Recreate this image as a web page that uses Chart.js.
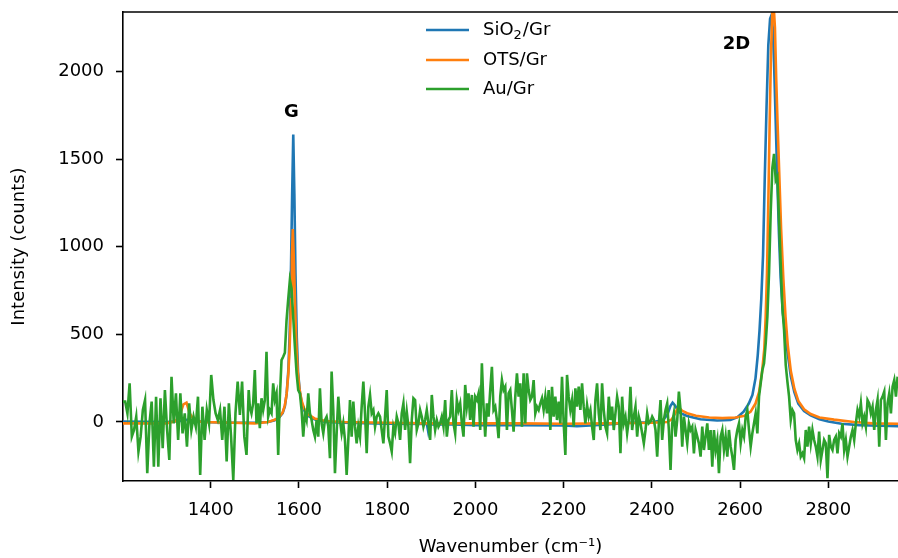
<!DOCTYPE html>
<html>
<head>
<meta charset="utf-8">
<script src="https://cdn.jsdelivr.net/npm/chart.js@4"></script>
<style>
  html, body { margin: 0; padding: 0; background: #fff; }
  canvas { display: block; }
</style>
</head>
<body>
<canvas id="ramanChart" width="898" height="558"></canvas>
<script>
// --- data ---
const xTickValues = [1400, 1600, 1800, 2000, 2200, 2400, 2600, 2800];
const yTickValues = [0, 500, 1000, 1500, 2000];

// SiO2/Gr (smooth, sampled where the shape changes)
const sio2Wn = [1200, 1300, 1330, 1345, 1360, 1400, 1450, 1500, 1530, 1545, 1555, 1563, 1568, 1572, 1576, 1579, 1582, 1584.5, 1587, 1589.5, 1592, 1595, 1598, 1602, 1607, 1613, 1620, 1635, 1660, 1700, 1800, 1890, 1893, 1896, 1950, 2000, 2100, 2200, 2230, 2250, 2300, 2350, 2400, 2425, 2435, 2442, 2447, 2452, 2458, 2465, 2480, 2510, 2548, 2578, 2594, 2608, 2620, 2628, 2635, 2640, 2644, 2648, 2652, 2656, 2660, 2664, 2668, 2671, 2674, 2677, 2680, 2684, 2688, 2692, 2697, 2702, 2708, 2715, 2723, 2732, 2745, 2760, 2780, 2800, 2830, 2870, 2920, 2960];
const sio2Counts = [2, 0, 5, 12, 5, -2, -5, -5, 0, 10, 25, 50, 90, 160, 300, 520, 900, 1300, 1640, 1300, 850, 480, 280, 170, 100, 60, 35, 15, 0, -5, -10, -12, -55, -15, -15, -18, -18, -20, -25, -22, -15, -5, -2, 10, 40, 90, 110, 95, 70, 50, 34, 15, 8, 11, 27, 59, 106, 154, 250, 380, 520, 700, 950, 1400, 1800, 2150, 2300, 2320, 2250, 2050, 1780, 1420, 1080, 820, 620, 520, 390, 260, 170, 105, 62, 38, 15, 2, -10, -18, -22, -24];

// OTS/Gr
const otsWn = [1200, 1300, 1320, 1330, 1338, 1345, 1352, 1362, 1380, 1450, 1500, 1530, 1545, 1555, 1563, 1568, 1572, 1576, 1579, 1582, 1584, 1586, 1588, 1591, 1594, 1597, 1601, 1606, 1612, 1620, 1635, 1660, 1700, 1800, 1900, 2000, 2100, 2200, 2300, 2400, 2435, 2445, 2452, 2458, 2462, 2468, 2480, 2500, 2530, 2560, 2590, 2610, 2624, 2635, 2643, 2650, 2655, 2658, 2661, 2664, 2667, 2670, 2673, 2676, 2679, 2682, 2685, 2689, 2693, 2698, 2703, 2708, 2715, 2723, 2732, 2745, 2760, 2780, 2813, 2858, 2900, 2960];
const otsCounts = [-8, -8, 5, 40, 100, 110, 50, 10, 0, -5, -8, 0, 12, 28, 55, 95, 160, 280, 440, 700, 950, 1100, 950, 680, 440, 290, 190, 120, 75, 45, 20, 5, 0, -5, -8, -8, -8, -10, -8, -5, 0, 15, 45, 75, 80, 65, 50, 35, 25, 22, 25, 35, 59, 106, 170, 290, 420, 600, 850, 1250, 1700, 2100, 2330, 2380, 2250, 1950, 1700, 1400, 1100, 820, 600, 440, 290, 190, 120, 72, 45, 25, 13, 0, -8, -10];

// Au/Gr (noisy): first part every 5 cm-1 from 1201, rest every 3.785 cm-1 from 1488.5
const auLowStart = 1201;
const auLowStep = 5;
const auLowCounts = [116, 116, 49, 220, -84, -46, 30, -169, -84, 68, 125, -293, -8, 116, -255, 144, -255, 135, -150, 182, -46, -217, 258, -8, 163, -103, 163, -65, 49, -141, 106, -46, 30, -27, 144, -302, 87, -103, 68, -8, 268, 125, 49, 11, 68, -103, 87, -226, 106, -84, -331, 49, 230, 40, 230, -84, -188, 182];
const auStart = 1488.5;
const auStep = 3.785;
const auCounts = [
  87, 49, 106, 296, -8, 106, -36, 135, 68, 125,
  400, 30, 68, 49, 220, 125, 163, -188, 144, 353,
  372, 395, 580, 700, 810, 760, 600, 430, 280, 182,
  163, 68, -84, 49, 11, 163, 49, 11, -46, -84,
  11, -84, 192, -8, -65, 11, 30, -27, -207, 287,
  68, -293, -65, 144, 11, -65, -8, -103, -302, -103,
  125, -84, 116, -27, -122, -27, -84, 87, 230, 49,
  -179, 87, 154, 49, 68, -27, 30, 49,
  30, -46, -122, 30, 182, -84, -122, -169, -27, -65,
  30, -8, -103, 49, 106, -46, 59, -27, -236, 11,
  135, 125, -46, -8, 68, 30, -27, 11, 68, -8,
  -103, 154, 30, -46, 11, -27, -8, 30, -27, 125,
  -84, 11, 30, 182, -8, -65, 125, 68, 106, -8,
  -84, 211, 87, 163, 11, 154, -27, 144, 125, 163,
  -46, 334, 87, -84, 106, 30, 182, 315, 68, 87,
  11, -93, 144, 239, 182, 201, -46, 163,
  182, 68, -55, 144, 277, 144, 220, -27, 277, -8,
  277, 182, 125, 144, 239, 49, 87, 68, 106, 135,
  68, 144, 49, 182, -46, 201, 30, 144, 11, 116,
  -8, 258, -8, -188, 268, 144, 68, 125, -27, 192,
  87, 201, 68, 220, 87, -8, 97, 30, 68, -27,
  -103, 125, 220, 49, -46, 220, 68, -27, -65, 144,
  11, 87, -46, 49, 144, 87, -179, 144, -8, 30,
  -65, 11, 201, -46, 30, 87, -84, 30,
  -8, -65, -122, -46, 49, -8, 2, 30, 11, -46,
  -198, -8, 125, -103, 11, 68, 106, -46, -274, -8,
  49, -84, 11, 173, 68, -141, 30, -46, -122, -8,
  -46, -27, -179, -46, -84, -122, -198, -27, -160, -84,
  -8, -160, -46, -255, -46, -160, -103, -293, -84, -46,
  -160, -84, -198, -46, -141, -198, -274, -103, -46, -8,
  -122, -46, -84, 30, 68, -46, -141, -65, -8, 49,
  -65, 144, 220, 296, 334, 448, 600, 850,
  1200, 1450, 1530, 1380, 1400, 1150, 900, 650, 525, 325,
  230, 144, 11, 68, 49, -103, -160, -122, -198, -179,
  -207, -46, -141, -27, -122, -46, -103, -141, -198, -55,
  -217, -160, -103, -122, -321, -74, -141, -160, -103, -84,
  -179, -65, -84, -8, -160, -103, -198, -141, -84, -46,
  -103, -8, 68, 30, 106, -8, 30, -27, 125, 106,
  49, 87, -46, 68, 125, -141, 125, 144, 173, -103,
  106, 163, 49, 201, 239, 144, 258
];

const FONT = "'DejaVu Sans', 'Noto Sans', sans-serif";

function pairs(xs, ys) {
  return xs.map((x, i) => ({ x: x, y: ys[i] }));
}

const auPoints = auLowCounts.map((v, i) => ({ x: auLowStart + i * auLowStep, y: v }))
  .concat(auCounts.map((v, i) => ({ x: auStart + i * auStep, y: v })));

const series = [
  { label: "SiO2/Gr", color: "#1f77b4", data: pairs(sio2Wn, sio2Counts), order: 3 },
  { label: "OTS/Gr", color: "#ff7f0e", data: pairs(otsWn, otsCounts), order: 2 },
  { label: "Au/Gr", color: "#2ca02c", data: auPoints, order: 1 }
];

// peak labels, placed in data coordinates
const peakNotes = [
  { text: "G", wn: 1583, counts: 1764 },
  { text: "2D", wn: 2592, counts: 2152 }
];

// Legend in the upper middle, no frame, subscript on SiO2
const insideLegend = {
  id: "insideLegend",
  afterDraw(chart) {
    const ctx = chart.ctx;
    const x0 = 426, rowY = [30, 60, 89];
    ctx.save();
    series.forEach((s, i) => {
      const y = rowY[i];
      ctx.strokeStyle = s.color;
      ctx.lineWidth = 2.6;
      ctx.beginPath();
      ctx.moveTo(x0, y);
      ctx.lineTo(x0 + 43, y);
      ctx.stroke();

      ctx.fillStyle = "#000";
      ctx.textBaseline = "middle";
      ctx.textAlign = "left";
      let tx = x0 + 57;
      ctx.font = "18px " + FONT;
      if (i === 0) {
        ctx.fillText("SiO", tx, y);
        tx += ctx.measureText("SiO").width;
        ctx.font = "13px " + FONT;
        ctx.fillText("2", tx, y + 6);
        tx += ctx.measureText("2").width + 1;
        ctx.font = "18px " + FONT;
        ctx.fillText("/Gr", tx, y);
      } else {
        ctx.fillText(s.label, tx, y);
      }
    });

    // peak annotations
    ctx.font = "bold 18px " + FONT;
    ctx.textAlign = "center";
    ctx.textBaseline = "middle";
    peakNotes.forEach(n => {
      ctx.fillText(n.text, chart.scales.x.getPixelForValue(n.wn), chart.scales.y.getPixelForValue(n.counts));
    });

    // top spine
    const a = chart.chartArea;
    ctx.strokeStyle = "#000";
    ctx.lineWidth = 1.6;
    ctx.beginPath();
    ctx.moveTo(a.left, a.top);
    ctx.lineTo(a.right, a.top);
    ctx.stroke();
    ctx.restore();
  }
};

const ctx = document.getElementById("ramanChart");

new Chart(ctx, {
  type: "line",
  data: {
    datasets: series.map(s => ({
      label: s.label,
      data: s.data,
      borderColor: s.color,
      backgroundColor: s.color,
      borderWidth: 2.6,
      pointRadius: 0,
      tension: 0,
      fill: false,
      order: s.order
    }))
  },
  options: {
    responsive: false,
    animation: false,
    layout: { padding: { left: 0, top: 12, right: 0, bottom: 0 } },
    plugins: {
      legend: { display: false },
      tooltip: { enabled: false }
    },
    scales: {
      x: {
        type: "linear",
        min: 1201,
        max: 2958,
        afterBuildTicks: s => { s.ticks = xTickValues.map(v => ({ value: v })); },
        afterFit: s => { s.height = 77; s.paddingLeft = 0; s.paddingRight = 0; },
        grid: { display: true, drawOnChartArea: false, drawTicks: true, tickLength: 7, tickWidth: 1.6, tickColor: "#000" },
        border: { display: true, color: "#000", width: 1.6 },
        ticks: { color: "#000", font: { family: FONT, size: 18 }, padding: 12, maxRotation: 0, autoSkip: false, callback: v => String(v) },
        title: { display: true, text: "Wavenumber (cm⁻¹)", color: "#000", font: { family: FONT, size: 18 }, padding: { top: 0, bottom: 0 } }
      },
      y: {
        type: "linear",
        min: -337,
        max: 2339,
        afterBuildTicks: s => { s.ticks = yTickValues.map(v => ({ value: v })); },
        afterFit: s => { s.width = 123; s.paddingTop = 0; s.paddingBottom = 0; },
        grid: { display: true, drawOnChartArea: false, drawTicks: true, tickLength: 7, tickWidth: 1.6, tickColor: "#000" },
        border: { display: true, color: "#000", width: 1.6 },
        ticks: { color: "#000", font: { family: FONT, size: 18 }, padding: 12, autoSkip: false, callback: v => String(v) },
        title: { display: true, text: "Intensity (counts)", color: "#000", font: { family: FONT, size: 18 }, padding: { top: 9, bottom: 0 } }
      }
    }
  },
  plugins: [insideLegend]
});
</script>
</body>
</html>
